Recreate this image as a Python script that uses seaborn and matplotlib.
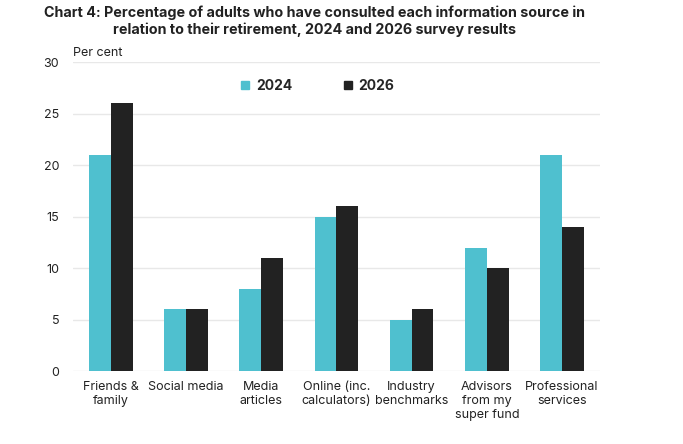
import pandas as pd
import matplotlib.pyplot as plt
import seaborn as sns
from matplotlib.lines import Line2D

categories = ['Friends &\nfamily', 'Social media', 'Media\narticles', 'Online (inc.\ncalculators)',
              'Industry\nbenchmarks', 'Advisors\nfrom my\nsuper fund', 'Professional\nservices']
values_2024 = [21, 6, 8, 15, 5, 12, 21]
values_2026 = [26, 6, 11, 16, 6, 10, 14]
years = ['2024', '2026']
colors = ['#4fc0cf', '#222222']

df = pd.DataFrame({
    'source': categories * 2,
    'year': [years[0]] * len(categories) + [years[1]] * len(categories),
    'value': values_2024 + values_2026,
})

sns.set_style('white')
plt.rcParams['font.family'] = ['Inter', 'DejaVu Sans']

fig = plt.figure(figsize=(6.83, 4.44), dpi=100)
ax = fig.add_axes([0.107, 0.164, 0.771, 0.696])
sns.barplot(data=df, x='source', y='value', hue='year', palette=colors,
            width=0.58, saturation=1, linewidth=0, ax=ax, legend=False, zorder=3)

ax.set_ylim(0, 30)
ax.set_xlim(-0.5, 6.5)
ax.set_yticks(range(0, 31, 5))
ax.grid(axis='y', color='#e8e8e8', linewidth=1, zorder=0)
ax.set_axisbelow(True)
for s in ax.spines.values():
    s.set_visible(False)
ax.tick_params(axis='both', length=0, labelsize=9, colors='#222222', pad=7)
ax.tick_params(axis='y', pad=10)
ax.set_xlabel('')
ax.set_ylabel('')

fig.text(0.107, 0.875, 'Per cent', fontsize=9, color='#222222')
fig.suptitle('Chart 4: Percentage of adults who have consulted each information source in\n'
             'relation to their retirement, 2024 and 2026 survey results',
             x=0.461, y=0.987, fontsize=10.3, fontweight='bold', color='#222222', linespacing=1.2)

handles = [Line2D([], [], marker='s', linestyle='', color=c, markersize=5.5) for c in colors]
leg = ax.legend(handles, years, loc='upper center', bbox_to_anchor=(0.455, 0.985), ncol=2,
                frameon=False, handletextpad=-0.2, columnspacing=3.0, prop={'weight': 'bold', 'size': 10})

fig.savefig('out.png', dpi=100)
